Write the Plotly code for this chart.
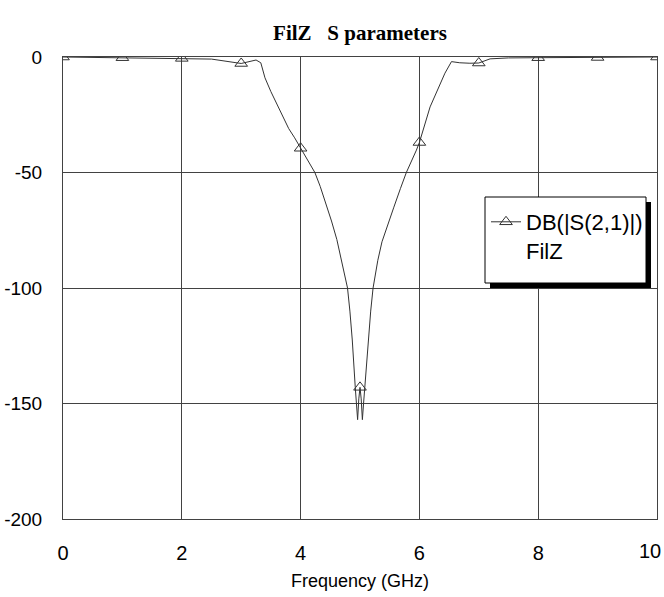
import plotly.graph_objects as go

# S21 of the FilZ band-stop filter (frequency in GHz, magnitude in dB)
freq_ghz = [
    0.0, 1.0, 2.0, 2.5, 3.0, 3.25, 3.33, 3.4, 3.5, 3.65, 3.8, 3.9, 4.0,
    4.1, 4.24, 4.33, 4.42, 4.52, 4.61, 4.70, 4.79, 4.83, 4.87, 4.92, 4.94,
    4.96, 4.98, 5.0, 5.02, 5.04, 5.06, 5.08, 5.14, 5.18, 5.22, 5.30, 5.37,
    5.46, 5.57, 5.68, 5.78, 5.95, 6.0, 6.18, 6.43, 6.54, 6.68, 6.85, 7.0,
    7.19, 7.5, 8.0, 9.0, 10.0,
]
s21_db = [
    0.0, -0.3, -0.6, -0.9, -2.8, -1.3, -2.5, -9.0, -15.0, -23.0, -31.0, -35.0, -39.5,
    -44.0, -50.0, -56.0, -63.0, -71.0, -79.0, -89.0, -100.0, -110.0, -122.5, -143.0, -150.0,
    -157.0, -148.0, -143.0, -148.0, -157.0, -150.0, -143.0, -122.5, -110.0, -100.0, -88.0, -80.0,
    -73.0, -65.0, -57.0, -50.0, -40.3, -37.0, -21.6, -7.0, -2.0, -2.5, -2.7, -2.6,
    -0.8, -0.4, -0.3, -0.2, 0.0,
]

x_ticks = [0, 2, 4, 6, 8, 10]
y_ticks = [0, -50, -100, -150, -200]

# triangles sit on the trace at every whole GHz
mark_x = [f for f in freq_ghz if abs(f - round(f)) < 1e-9]
mark_y = [v for f, v in zip(freq_ghz, s21_db) if abs(f - round(f)) < 1e-9]

SANS = "Liberation Sans, Arial, sans-serif"
INK = "#333333"
GRID = "#424242"
TICK_SIZE = 20

# plot-area pixel box, used to place the legend frame
W, H = 664, 597
PX0, PX1, PY0, PY1 = 63, 657, 57, 519


def px(x):
    return (x - PX0) / (PX1 - PX0)


def py(y):
    return (PY1 - y) / (PY1 - PY0)


fig = go.Figure()
fig.add_trace(go.Scatter(
    x=freq_ghz, y=s21_db, mode="lines", showlegend=False,
    line=dict(color=INK, width=1), hoverinfo="x+y",
))
fig.add_trace(go.Scatter(
    x=mark_x, y=mark_y, mode="markers", showlegend=False,
    marker=dict(symbol="triangle-up-open", size=11, color=INK,
                line=dict(color=INK, width=1)),
    hoverinfo="x+y",
))
# legend entry: line with a triangle
fig.add_trace(go.Scatter(
    x=[None], y=[None], mode="lines+markers", name="DB(|S(2,1)|)<br>FilZ",
    line=dict(color=INK, width=1),
    marker=dict(symbol="triangle-up-open", size=11, color=INK,
                line=dict(color=INK, width=1)),
))

# the last x label would run past the page edge, so it is right-aligned there
edge_tick = x_ticks[-1]
x_ticktext = [str(v) if v != edge_tick else "" for v in x_ticks]

fig.update_layout(
    width=W, height=H,
    margin=dict(l=PX0, r=W - PX1, t=PY0, b=H - PY1),
    paper_bgcolor="white", plot_bgcolor="white",
    title=dict(
        text="FilZ\u00a0\u00a0\u00a0S parameters",
        font=dict(family="Liberation Serif, Times New Roman, serif", size=21,
                  color="black", weight="bold"),
        x=0.5, xref="paper", xanchor="center",
        y=1 - 33 / H, yref="container", yanchor="middle",
    ),
    xaxis=dict(
        range=[0, 10], tickvals=x_ticks, ticktext=x_ticktext,
        showgrid=True, gridcolor=GRID, gridwidth=1, zeroline=False,
        showline=True, mirror=True, linecolor=GRID, linewidth=1,
        ticks="", ticklabelstandoff=16, automargin=False,
        tickfont=dict(family=SANS, size=TICK_SIZE, color="black"),
        title=dict(text="Frequency (GHz)", standoff=11,
                   font=dict(family=SANS, size=18, color="black")),
    ),
    yaxis=dict(
        range=[-200, 0], tickvals=y_ticks, ticktext=[str(v) for v in y_ticks],
        showgrid=True, gridcolor=GRID, gridwidth=1, zeroline=False,
        showline=True, mirror=True, linecolor=GRID, linewidth=1,
        ticks="", ticklabelstandoff=16, automargin=False,
        ticklabeloverflow="allow",
        tickfont=dict(family=SANS, size=19, color="black"),
    ),
    legend=dict(
        x=px(486), y=py(201), xanchor="left", yanchor="top",
        bgcolor="rgba(0,0,0,0)", borderwidth=0, valign="top",
        font=dict(family=SANS, size=22, color="black"),
    ),
    showlegend=True,
    annotations=[
        dict(text=str(edge_tick), x=edge_tick, xref="x", y=0, yref="paper",
             xanchor="right", yanchor="middle", xshift=6, yshift=-32,
             showarrow=False,
             font=dict(family=SANS, size=TICK_SIZE, color="black")),
    ],
    shapes=[
        # drop shadow behind the legend frame
        dict(type="rect", xref="paper", yref="paper", layer="above",
             x0=px(490), x1=px(651), y0=py(202), y1=py(288),
             fillcolor="black", line=dict(width=0)),
        dict(type="rect", xref="paper", yref="paper", layer="above",
             x0=px(485), x1=px(646), y0=py(197), y1=py(283),
             fillcolor="white", line=dict(color="black", width=1)),
    ],
)

fig.write_html("out.html")
